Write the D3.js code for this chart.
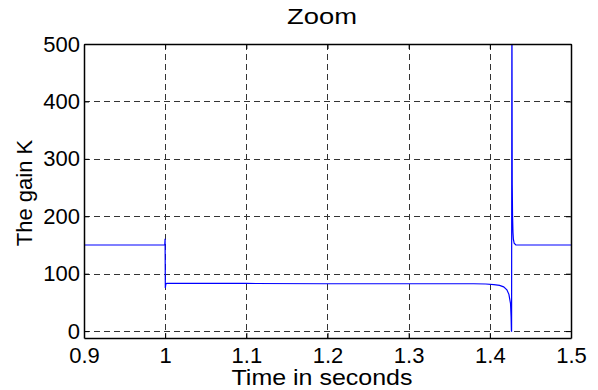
<!DOCTYPE html>
<html>
<head>
<meta charset="utf-8">
<script src="https://cdn.jsdelivr.net/npm/d3@7"></script>
<style>
  body { margin: 0; background: #fff; }
  text { font-family: "Liberation Sans", Arial, sans-serif; fill: #000; }
</style>
</head>
<body>
<svg width="598" height="390"></svg>
<script>
// values
var timeSec = [0.9, 0.9995, 0.9999, 1.0002, 1.0008, 1.002, 1.05, 1.1, 1.2, 1.3, 1.38,
               1.395, 1.405, 1.412, 1.417, 1.421, 1.4235, 1.4255, 1.4262, 1.4266,
               1.4268, 1.4272, 1.4276, 1.428, 1.4285, 1.429, 1.43, 1.432, 1.436, 1.5];
var gainK   = [150, 150, 161, 75, 82, 83, 83, 83, 82.5, 82.5, 82.5,
               82, 81, 79.5, 77, 72, 64, 48, 25, 0,
               0, 600, 255, 200, 172, 160, 153, 150, 150, 150];
var xTicks = [0.9, 1, 1.1, 1.2, 1.3, 1.4, 1.5];
var yTicks = [0, 100, 200, 300, 400, 500];

var draw = function(){
  var svg = d3.select('svg');
  var pl = 84, pr = 571, pt = 44, pb = 338;

  var x = d3.scaleLinear().domain([0.9, 1.5]).range([pl, pr]);
  var y = d3.scaleLinear().domain([-12, 500]).range([pb, pt]);

  // grid
  var grid = svg.append('g').attr('stroke', '#333').attr('stroke-width', 1)
    .attr('stroke-dasharray', '6,4');
  grid.selectAll('.gx').data(xTicks.slice(1, -1)).enter().append('line')
    .attr('x1', d => Math.round(x(d)) + 0.5).attr('x2', d => Math.round(x(d)) + 0.5)
    .attr('y1', pt).attr('y2', pb);
  grid.selectAll('.gy').data(yTicks.slice(0, -1)).enter().append('line')
    .attr('y1', d => Math.round(y(d)) + 0.5).attr('y2', d => Math.round(y(d)) + 0.5)
    .attr('x1', pl).attr('x2', pr);

  // data line
  svg.append('clipPath').attr('id', 'clip').append('rect')
    .attr('x', pl).attr('y', pt).attr('width', pr - pl).attr('height', pb - pt);

  var line = d3.line().x((d, i) => x(timeSec[i])).y(d => y(d));
  svg.append('path').datum(gainK)
    .attr('clip-path', 'url(#clip)')
    .attr('fill', 'none').attr('stroke', '#0000ff').attr('stroke-width', 1.2)
    .attr('d', line);

  // axes, ticks inward, full box
  var xAxis = d3.axisBottom(x).tickValues(xTicks).tickSizeInner(-5).tickSizeOuter(0).tickPadding(9)
    .tickFormat(d3.format('~g'));
  var yAxis = d3.axisLeft(y).tickValues(yTicks).tickSizeInner(-5).tickSizeOuter(0).tickPadding(4);

  var gx = svg.append('g').attr('transform', 'translate(0,' + pb + ')').call(xAxis);
  var gy = svg.append('g').attr('transform', 'translate(' + pl + ',0)').call(yAxis);
  svg.append('g').attr('transform', 'translate(0,' + pt + ')')
    .call(d3.axisTop(x).tickValues(xTicks).tickSizeInner(-5).tickSizeOuter(0).tickFormat(''));
  svg.append('g').attr('transform', 'translate(' + pr + ',0)')
    .call(d3.axisRight(y).tickValues(yTicks).tickSizeInner(-5).tickSizeOuter(0).tickFormat(''));

  svg.selectAll('.domain').attr('stroke', '#000').attr('stroke-width', 1.5);
  svg.selectAll('.tick line').attr('stroke', '#000');
  svg.selectAll('.tick text').attr('font-size', 22)
    .attr('font-family', '"Liberation Sans", Arial, sans-serif');

  // labels
  svg.append('text').attr('x', 322).attr('y', 24).attr('text-anchor', 'middle')
    .attr('font-size', 22).attr('textLength', 70).attr('lengthAdjust', 'spacingAndGlyphs')
    .text('Zoom');
  svg.append('text').attr('x', 322).attr('y', 385).attr('text-anchor', 'middle')
    .attr('font-size', 22).attr('textLength', 181).attr('lengthAdjust', 'spacingAndGlyphs')
    .text('Time in seconds');
  svg.append('text').attr('transform', 'translate(32,193) rotate(-90)')
    .attr('text-anchor', 'middle').attr('font-size', 22).text('The gain K');
};
draw();
</script>
</body>
</html>
